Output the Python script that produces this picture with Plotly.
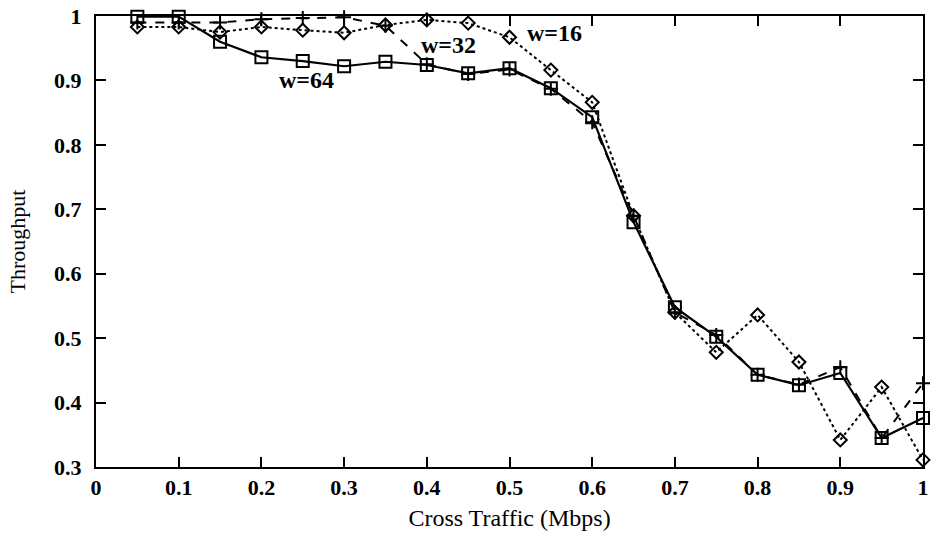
import plotly.graph_objects as go

x = [0.05, 0.1, 0.15, 0.2, 0.25, 0.3, 0.35, 0.4, 0.45, 0.5, 0.55, 0.6, 0.65, 0.7, 0.75, 0.8, 0.85, 0.9, 0.95, 1.0]
w16 = [0.983, 0.983, 0.975, 0.983, 0.978, 0.974, 0.986, 0.994, 0.989, 0.967, 0.916, 0.866, 0.69, 0.54, 0.478, 0.536, 0.463, 0.342, 0.424, 0.311]
w32 = [0.99, 0.99, 0.99, 0.995, 0.997, 0.998, 0.985, 0.925, 0.91, 0.917, 0.887, 0.835, 0.69, 0.54, 0.505, 0.443, 0.428, 0.455, 0.345, 0.43]
w64 = [0.999, 0.999, 0.96, 0.936, 0.93, 0.922, 0.929, 0.924, 0.911, 0.919, 0.888, 0.843, 0.68, 0.548, 0.502, 0.443, 0.427, 0.446, 0.345, 0.376]

xticks = [0, 0.1, 0.2, 0.3, 0.4, 0.5, 0.6, 0.7, 0.8, 0.9, 1.0]
xtick_labels = ["0", "0.1", "0.2", "0.3", "0.4", "0.5", "0.6", "0.7", "0.8", "0.9", "1"]
yticks = [0.3, 0.4, 0.5, 0.6, 0.7, 0.8, 0.9, 1.0]
ytick_labels = ["0.3", "0.4", "0.5", "0.6", "0.7", "0.8", "0.9", "1"]

labels = [("w=64", 0.254, 0.901), ("w=32", 0.426, 0.955), ("w=16", 0.555, 0.974)]

FONT = "Liberation Serif"

fig = go.Figure()
fig.add_trace(go.Scatter(
    x=x, y=w16, mode="lines+markers", name="w=16", cliponaxis=False,
    line=dict(color="black", width=2, dash="dot"),
    marker=dict(symbol="diamond-open", size=10, color="black", line=dict(width=2))))
fig.add_trace(go.Scatter(
    x=x, y=w32, mode="lines+markers", name="w=32", cliponaxis=False,
    line=dict(color="black", width=2, dash="dash"),
    marker=dict(symbol="cross-thin-open", size=10, color="black", line=dict(width=2))))
fig.add_trace(go.Scatter(
    x=x, y=w64, mode="lines+markers", name="w=64", cliponaxis=False,
    line=dict(color="black", width=2.2),
    marker=dict(symbol="square-open", size=12, color="black", line=dict(width=2))))

for txt, lx, ly in labels:
    fig.add_annotation(x=lx, y=ly, text="<b>" + txt + "</b>", showarrow=False,
                       xanchor="center", yanchor="middle",
                       font=dict(family=FONT, size=24, color="black"))

fig.update_layout(
    width=931, height=533,
    margin=dict(l=96, r=2, t=16, b=66),
    paper_bgcolor="white", plot_bgcolor="white",
    showlegend=False,
    font=dict(family=FONT, color="black"),
)
fig.update_xaxes(
    range=[0, 1], tickvals=xticks, ticktext=["<b>" + t + "</b>" for t in xtick_labels],
    ticks="inside", ticklen=10, tickwidth=1.5, tickcolor="black",
    showline=True, linecolor="black", linewidth=2, mirror="allticks",
    showgrid=False, zeroline=False, ticklabeloverflow="allow",
    tickfont=dict(family=FONT, size=22, color="black"),
    title=dict(text="Cross Traffic (Mbps)", standoff=10,
               font=dict(family=FONT, size=24, color="black")),
)
fig.update_yaxes(
    range=[0.3, 1.0], tickvals=yticks, ticktext=["<b>" + t + "</b>" for t in ytick_labels],
    ticks="inside", ticklen=10, tickwidth=1.5, tickcolor="black",
    showline=True, linecolor="black", linewidth=2, mirror="allticks",
    showgrid=False, zeroline=False, ticklabelstandoff=8, ticklabeloverflow="allow",
    tickfont=dict(family=FONT, size=22, color="black"),
    title=dict(text="Throughput", standoff=22,
               font=dict(family=FONT, size=22, color="black")),
)

fig.write_html("out.html")
